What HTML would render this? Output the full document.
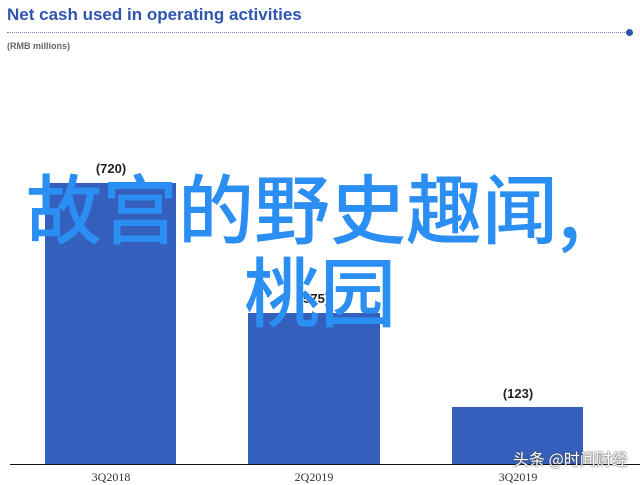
<!DOCTYPE html>
<html><head><meta charset="utf-8"><style>
body{margin:0;width:640px;height:480px;background:#fff;position:relative;overflow:hidden;font-family:"Liberation Sans",sans-serif}
.a{position:absolute}
.bar{position:absolute;background:#355fbd}
.lbl{position:absolute;font-weight:bold;font-size:13px;color:#222;width:132px;text-align:center}
.x{position:absolute;font-family:"Liberation Serif",serif;font-size:12px;color:#333;width:132px;text-align:center;top:470px}
.big{position:absolute;font-family:"Noto Sans CJK SC",sans-serif;font-weight:500;color:#2b8ef2;font-size:76px;line-height:1;white-space:nowrap}
</style></head><body>
<div class="a" style="left:7px;top:5px;font-size:17px;font-weight:bold;color:#2f55b0">Net cash used in operating activities</div>
<div class="a" style="left:7px;top:32px;width:620px;border-top:1px dotted #6b86c8"></div>
<div class="a" style="left:626px;top:29px;width:7px;height:7px;border-radius:50%;background:#2f55b0"></div>
<div class="a" style="left:7px;top:41px;font-size:9px;font-weight:bold;color:#666">(RMB millions)</div>
<div class="bar" style="left:45px;top:183px;width:131px;height:281px"></div>
<div class="bar" style="left:248px;top:313px;width:132px;height:151px"></div>
<div class="bar" style="left:452px;top:407px;width:131px;height:57px"></div>
<div class="lbl" style="left:45px;top:161px">(720)</div>
<div class="lbl" style="left:248px;top:291px">(575)</div>
<div class="lbl" style="left:452px;top:386px">(123)</div>
<div class="a" style="left:10px;top:464px;width:630px;height:1px;background:#111"></div>
<div class="x" style="left:45px">3Q2018</div>
<div class="x" style="left:248px">2Q2019</div>
<div class="x" style="left:452px">3Q2019</div>
<div class="a" style="left:513px;top:446px;font-family:'Noto Sans CJK SC',sans-serif;font-size:16px;color:#fff;text-shadow:0 0 2px #555,0 0 1px #333">头条 @时间财经</div>
<div class="big" style="left:26px;top:167px">故宫的野史趣闻,</div>
<div class="big" style="left:244px;top:250px">桃园</div>
</body></html>
